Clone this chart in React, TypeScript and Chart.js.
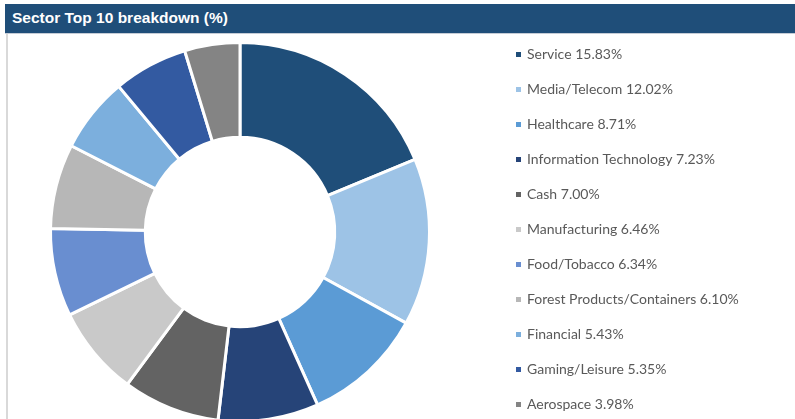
import React, { useEffect, useRef } from "react";
import { Chart, registerables } from "chart.js";

Chart.register(...registerables);

const title = "Sector Top 10 breakdown (%)";

const categories = [
  "Service",
  "Media/Telecom",
  "Healthcare",
  "Information Technology",
  "Cash",
  "Manufacturing",
  "Food/Tobacco",
  "Forest Products/Containers",
  "Financial",
  "Gaming/Leisure",
  "Aerospace",
];

const values = [15.83, 12.02, 8.71, 7.23, 7.0, 6.46, 6.34, 6.1, 5.43, 5.35, 3.98];

const colors = [
  "#1F4E79",
  "#9DC3E6",
  "#5B9BD5",
  "#264478",
  "#636363",
  "#C9C9C9",
  "#698ED0",
  "#B7B7B7",
  "#7CAFDD",
  "#335AA1",
  "#848484",
];

const W = 795;
const H = 460;

export default function App() {
  const ref = useRef<HTMLCanvasElement | null>(null);

  useEffect(() => {
    if (!ref.current) return;
    const sideLegend = {
      id: "sideLegend",
      afterDraw(chart: any) {
        const ctx = chart.ctx as CanvasRenderingContext2D;
        const labels = chart.data.labels as string[];
        const data = chart.data.datasets[0].data as number[];
        const bg = chart.data.datasets[0].backgroundColor as string[];
        ctx.save();
        ctx.font = "14px Lato";
        ctx.textBaseline = "middle";
        ctx.textAlign = "left";
        labels.forEach((lab, i) => {
          const y = 54.7 + 35 * i;
          ctx.fillStyle = bg[i];
          ctx.fillRect(516, Math.round(y - 2.5), 5, 5);
          ctx.fillStyle = "#595959";
          ctx.fillText(`${lab} ${data[i].toFixed(2)}%`, 527, y);
        });
        ctx.restore();
      },
    };

    const chart = new Chart(ref.current, {
      type: "doughnut",
      data: {
        labels: categories,
        datasets: [
          {
            data: values,
            backgroundColor: colors,
            borderColor: "#FFFFFF",
            borderWidth: 3,
          },
        ],
      },
      options: {
        responsive: false,
        animation: false,
        devicePixelRatio: 1,
        cutout: "50%",
        layout: {
          padding: { left: 49, right: W - 431, top: 41, bottom: H - 423 },
        },
        plugins: {
          legend: { display: false },
          tooltip: { enabled: false },
          title: { display: false },
        },
      },
      plugins: [sideLegend],
    });
    return () => chart.destroy();
  }, []);

  return (
    <div
      style={{
        position: "fixed",
        left: 0,
        top: 0,
        width: W,
        height: 419,
        overflow: "hidden",
        background: "#FFFFFF",
      }}
    >
      <canvas
        ref={ref}
        width={W}
        height={H}
        style={{ position: "absolute", left: 0, top: 0, width: W, height: H }}
      />
      <div
        style={{
          position: "absolute",
          left: 5,
          top: 4,
          width: 790,
          height: 30,
          background: "#1F4E79",
          borderBottom: "1px solid #C5CCD6",
          boxSizing: "border-box",
        }}
      >
        <span
          style={{
            position: "absolute",
            left: 7,
            top: 5,
            color: "#FFFFFF",
            fontFamily: "'Liberation Sans', Arial, sans-serif",
            fontWeight: "bold",
            fontSize: 15.5,
            lineHeight: "18px",
            whiteSpace: "nowrap",
          }}
        >
          {title}
        </span>
      </div>
      <div
        style={{
          position: "absolute",
          left: 6,
          top: 34,
          width: 2,
          height: 385,
          background: "#D9D9D9",
        }}
      />
    </div>
  );
}
